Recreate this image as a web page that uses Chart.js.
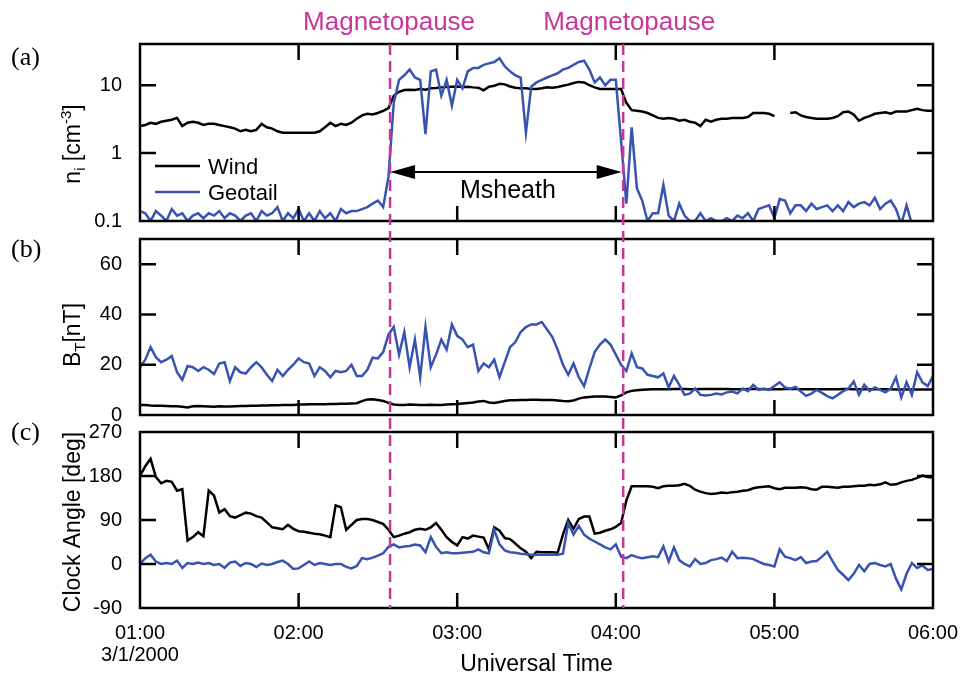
<!DOCTYPE html>
<html>
<head>
<meta charset="utf-8">
<script src="https://cdn.jsdelivr.net/npm/chart.js@4.4.1/dist/chart.umd.min.js"></script>
<style>
  html, body { margin: 0; padding: 0; background: #fff; }
  #wrap { position: relative; width: 962px; height: 674px; }
  #wrap canvas { position: absolute; left: 0; top: 0; }
</style>
</head>
<body>
<div id="wrap">
  <canvas id="panelA" width="962" height="674"></canvas>
  <canvas id="panelB" width="962" height="674"></canvas>
  <canvas id="panelC" width="962" height="674"></canvas>
</div>
<script>
// sample times in minutes after 01:00 UT, one every 2 minutes
const minutes = [];
for (let m = 0; m <= 300; m += 2) minutes.push(m);

const hourLabels = ['01:00', '02:00', '03:00', '04:00', '05:00', '06:00'];
const dateLabel = '3/1/2000';
const densityTicks = [0.1, 1, 10];
const fieldLabels = [0, 20, 40, 60];
const angleTicks = [-90, 0, 90, 180, 270];
const magnetopause = [94.6, 182.8];   // crossings, minutes after 01:00

// (a) ion density, cm^-3
const windDensity = [
  2.5, 2.6, 2.8, 2.7, 2.9, 3.0, 3.1, 3.3, 2.5, 2.8,
  2.9, 2.8, 2.6, 2.7, 2.7, 2.6, 2.5, 2.4, 2.3, 2.1,
  2.2, 2.1, 2.2, 2.7, 2.4, 2.3, 2.1, 2.0, 2.0, 2.0,
  2.0, 2.0, 2.0, 2.0, 2.1, 2.4, 2.8, 2.5, 2.7, 2.6,
  2.8, 3.2, 3.6, 3.8, 3.7, 3.9, 4.2, 4.6, 7.0, 8.0,
  8.5, 8.6, 8.5, 8.8, 8.6, 9.0, 9.1, 9.3, 9.4, 9.5,
  9.6, 9.4, 9.5, 9.3, 9.2, 8.4, 9.5, 9.8, 10.5, 10.3,
  9.6, 9.2, 9.0, 9.0, 8.8, 8.8, 9.0, 9.3, 9.2, 9.4,
  9.8, 10.2, 10.8, 11.2, 11.0, 10.0, 9.3, 8.8, 8.8, 8.8,
  8.8, 8.8, 5.5, 4.3, 4.2, 4.1, 3.9, 3.6, 3.3, 3.2,
  3.3, 3.2, 3.0, 3.1, 2.9, 2.8, 2.5, 3.1, 2.9, 3.1,
  3.2, 3.2, 3.3, 3.3, 3.3, 3.4, 3.9, 3.9, 3.9, 3.8,
  3.5, null, null, 3.9, 4.0, 3.6, 3.4, 3.3, 3.2, 3.2,
  3.2, 3.3, 3.5, 4.0, 4.1, 3.7, 3.0, 3.3, 3.5, 3.8,
  3.9, 4.0, 3.8, 4.1, 4.1, 4.1, 4.3, 4.5, 4.3, 4.2,
  4.2
];
const geotailDensity = [
  0.14, 0.13, 0.10, 0.14, 0.12, 0.10, 0.15, 0.12, 0.13, 0.10,
  0.12, 0.13, 0.11, 0.13, 0.12, 0.14, 0.11, 0.13, 0.12, 0.10,
  0.12, 0.13, 0.10, 0.14, 0.12, 0.13, 0.16, 0.10, 0.13, 0.11,
  0.15, 0.10, 0.13, 0.10, 0.14, 0.11, 0.13, 0.10, 0.15, 0.13,
  0.14, 0.14, 0.15, 0.16, 0.18, 0.20, 0.16, 0.45, 5.5, 12,
  14, 17, 13, 12, 1.9, 16, 17, 7, 12, 5,
  12, 9, 16, 18, 18, 20, 21, 22, 25, 19,
  16, 14, 13, 2.0, 9.5, 11, 12, 13, 14, 15,
  17, 18, 20, 22, 23, 17, 11, 13, 10, 12,
  12, 1.5, 0.18, 2.4, 0.3, 0.2, 0.10, 0.13, 0.13, 0.34,
  0.12, 0.10, 0.18, 0.12, 0.10, 0.10, 0.13, 0.10, 0.11, 0.10,
  0.10, 0.11, 0.10, 0.12, 0.11, 0.13, 0.10, 0.15, 0.16, 0.17,
  0.11, 0.21, 0.20, 0.13, 0.17, 0.17, 0.14, 0.18, 0.15, 0.16,
  0.17, 0.14, 0.17, 0.14, 0.19, 0.16, 0.18, 0.19, 0.17, 0.22,
  0.15, 0.18, 0.20, 0.15, 0.09, 0.17, 0.09, 0.09, 0.09, 0.09,
  0.10
];

// (b) total field, nT
const windField = [
  4.0, 4.0, 3.8, 3.7, 3.7, 3.6, 3.5, 3.5, 3.3, 3.0,
  3.5, 3.6, 3.5, 3.4, 3.3, 3.5, 3.4, 3.4, 3.5, 3.6,
  3.6, 3.7, 3.7, 3.8, 3.8, 3.9, 3.9, 4.0, 4.0, 4.0,
  4.2, 4.2, 4.3, 4.3, 4.3, 4.3, 4.4, 4.4, 4.5, 4.5,
  4.6, 4.7, 5.5, 6.2, 6.3, 6.0, 5.6, 4.8, 4.2, 4.0,
  4.0, 4.2, 4.1, 4.0, 4.0, 4.1, 4.0, 4.0, 4.2, 4.3,
  4.4, 4.6, 4.8, 5.0, 5.4, 5.6, 5.0, 4.8, 5.2, 5.6,
  5.9, 5.9, 6.0, 6.0, 6.1, 6.1, 6.0, 6.0, 6.0, 5.8,
  5.6, 5.5, 5.8, 6.5, 7.0, 7.2, 7.4, 7.4, 7.4, 7.2,
  7.0, 7.8, 9.0, 9.6, 9.8, 10.0, 10.1, 10.2, 10.2, 10.2,
  10.2, 10.3, 10.3, 10.3, 10.2, 10.2, 10.3, 10.3, 10.3, 10.3,
  10.3, 10.3, 10.2, 10.2, 10.2, 10.3, 10.3, 10.3, 10.2, 10.2,
  10.2, 10.2, 10.3, 10.3, 10.3, 10.2, 10.2, 10.2, 10.2, 10.2,
  10.2, 10.2, 10.2, 10.3, 10.3, 10.2, 10.2, 10.2, 10.2, 10.2,
  10.2, 10.2, 10.2, 10.1, 10.1, 10.1, 10.1, 10.1, 10.1, 10.1,
  10.1
];
const geotailField = [
  19, 22, 27, 23, 21, 22, 23.5, 17, 14, 19.5,
  19, 17.5, 19, 18, 16.3, 20.5, 21, 13.5, 19, 17,
  16.5, 19, 21, 19, 16, 13.5, 18, 15.5, 18, 20,
  22.5, 21, 20.5, 15.5, 19, 17.5, 15, 17.5, 17, 17.5,
  20, 15.5, 15.5, 18, 22.8, 22.5, 25, 32, 35, 24,
  33, 19, 30, 15, 35, 19, 24, 30, 26, 36,
  31.5, 30, 27, 28, 17.5, 20.5, 19, 22, 15, 21,
  27, 29, 33, 35, 36, 36, 37, 34, 31, 26,
  20, 16, 20.5, 15, 11.5, 18.5, 25, 28, 30, 28,
  24, 20, 17.5, 24.5, 19, 18.5, 16, 15.5, 15, 16.5,
  11, 15.5, 12, 8, 8.5, 10.5, 8, 7.8, 8, 8.5,
  8.2, 9, 9.3, 8.6, 10.5, 9.5, 12, 10, 10.5, 10,
  11.5, 13, 11, 10.5, 11.2, 9.3, 7.6, 8.5, 10, 8.8,
  7.5, 6.6, 8, 9.5, 10.5, 13.3, 8, 12, 9.5, 11,
  10, 9, 10.5, 15, 7, 13, 8, 17, 13, 11.5,
  15.5
];

// (c) IMF clock angle, deg
const windClock = [
  180, 200, 215, 178, 165, 170, 168, 150, 153, 48,
  55, 65, 57, 150, 140, 105, 112, 98, 95, 100,
  105, 103, 98, 95, 85, 75, 73, 71, 80, 72,
  67, 66, 64, 62, 61, 58, 55, 120, 116, 70,
  80, 90, 92, 92, 90, 86, 82, 70, 55, 58,
  62, 65, 70, 72, 70, 75, 84, 70, 55, 45,
  38, 55, 52, 58, 56, 54, 30, 75, 68, 53,
  51, 42, 32, 25, 12, 25, 24, 24, 24, 23,
  60, 90, 72, 92, 97, 97, 62, 64, 68, 71,
  76, 84, 130, 159, 159, 159, 159, 158, 155, 159,
  160, 160, 161, 164, 160, 152, 148, 145, 143, 144,
  146, 145, 147, 148, 150, 151, 155, 157, 158, 159,
  155, 153, 156, 156, 156, 157, 156, 153, 152, 158,
  158, 157, 156, 158, 158, 159, 160, 160, 162, 161,
  163, 167, 162, 163, 167, 170, 172, 176, 181, 178,
  177
];
const geotailClock = [
  0, 12, 19, 5, 0, 2, 0, 7, -8, 2,
  0, 3, 0, 2, -2, 0, -8, 3, 5, -4,
  2, 0, -6, 1, -2, 0, 4, 7, 0, -10,
  -9, -2, 5, -2, 2, 0, -2, 0, 0, -6,
  -9, -4, 12, 10, 13, 17, 22, 35, 40, 34,
  36, 37, 40, 38, 24, 55, 35, 22, 24, 22,
  22, 23, 24, 25, 30, 24, 22, 70, 40, 28,
  24, 23, 21, 20, 19, 19, 19, 19, 19, 19,
  21, 84, 60, 78, 60, 52, 46, 40, 34, 30,
  40, 15, 12, 18, 14, 12, 14, 16, 14, 36,
  5, 34, 8, 0, -5, 10, 0, 2, 8, 10,
  13, 6, 25, 12, 13, 12, 10, 5, 0, -2,
  -5, 30, 15, 12, 8, 14, 2, 5, 6, 15,
  25, 6, -12, -22, -33, -20, -2, -15, 0, 2,
  -2, -5, 0, -30, -52, -20, 2, -8, -3, -12,
  -10
];

const WIND = '#000000';
const GEOTAIL = '#3953b1';
const MAGENTA = '#c8369a';
const SANS = "'Liberation Sans', Arial, sans-serif";

Chart.defaults.font.family = SANS;
Chart.defaults.font.size = 20;
Chart.defaults.color = '#000';

// plot boxes of the three panels
const panelTop = [44, 239, 432];
const panelBottom = [221, 415, 608];
const PLOT_LEFT = 140, PLOT_RIGHT = 933;
const X_AXIS_HEIGHT = 66;

const toPoints = vals => vals.map((v, i) => ({ x: minutes[i], y: v }));

function lineSet(label, vals, color, order) {
  return {
    label, data: toPoints(vals), borderColor: color, borderWidth: 2.5,
    pointRadius: 0, tension: 0, spanGaps: false, fill: false, order
  };
}

// inward tick marks on all four sides and the box round the plot
function frameTicks(isMajor) {
  return {
    id: 'frameTicks',
    afterDatasetsDraw(chart) {
      const { ctx, chartArea: a, scales: { x, y } } = chart;
      ctx.save();
      ctx.strokeStyle = '#000';
      ctx.lineWidth = 2.5;
      ctx.beginPath();
      x.ticks.forEach(t => {
        const px = x.getPixelForValue(t.value);
        if (px <= a.left + 1 || px >= a.right - 1) return;
        ctx.moveTo(px, a.top); ctx.lineTo(px, a.top + 16);
        ctx.moveTo(px, a.bottom); ctx.lineTo(px, a.bottom - 15);
      });
      y.ticks.forEach(t => {
        const py = y.getPixelForValue(t.value);
        if (py <= a.top + 1 || py >= a.bottom - 1) return;
        const len = isMajor(t.value) ? 16 : 8;
        ctx.moveTo(a.left, py); ctx.lineTo(a.left + len, py);
        ctx.moveTo(a.right, py); ctx.lineTo(a.right - len, py);
      });
      ctx.stroke();
      ctx.strokeRect(a.left, a.top, a.right - a.left, a.bottom - a.top);
      ctx.restore();
    }
  };
}

// rotated axis title with sub/superscripts
function drawRotatedTitle(ctx, parts, baseX, centerY) {
  const fontFor = p => (p.sub || p.sup ? 15 : 23) + 'px ' + SANS;
  let total = 0;
  parts.forEach(p => { ctx.font = fontFor(p); total += ctx.measureText(p.text).width; });
  ctx.save();
  ctx.translate(baseX, centerY);
  ctx.rotate(-Math.PI / 2);
  ctx.textAlign = 'left';
  ctx.textBaseline = 'alphabetic';
  let pos = -total / 2;
  parts.forEach(p => {
    ctx.font = fontFor(p);
    ctx.fillText(p.text, pos, p.sub ? 5 : (p.sup ? -9 : 0));
    pos += ctx.measureText(p.text).width;
  });
  ctx.restore();
}

function panelText(tag, tagBaseline, titleParts, titleCenter) {
  return {
    id: 'panelText',
    afterDraw(chart) {
      const ctx = chart.ctx;
      ctx.save();
      ctx.fillStyle = '#000';
      ctx.font = "26px 'Liberation Serif', 'Times New Roman', serif";
      ctx.textAlign = 'left';
      ctx.textBaseline = 'alphabetic';
      ctx.fillText(tag, 11, tagBaseline);
      drawRotatedTitle(ctx, titleParts, 80, titleCenter);
      ctx.restore();
    }
  };
}

function xScale(showLabels) {
  return {
    type: 'linear', min: 0, max: 300,
    grid: { display: false }, border: { display: false },
    ticks: {
      display: showLabels, stepSize: 60, autoSkip: false, maxRotation: 0,
      padding: 6, font: { size: 20, lineHeight: 1.1 },
      callback: v => {
        const h = hourLabels[v / 60];
        return v === 0 ? [h, dateLabel] : h;
      }
    },
    afterFit: s => { s.height = showLabels ? X_AXIS_HEIGHT : 0; s.paddingLeft = 0; s.paddingRight = 0; }
  };
}

function yFit(s) { s.width = PLOT_LEFT; s.paddingTop = 0; s.paddingBottom = 0; }

function baseOptions(panel, yOpts, showX) {
  return {
    responsive: false, animation: false, events: [],
    layout: {
      padding: {
        left: 0, right: 962 - PLOT_RIGHT, top: panelTop[panel],
        bottom: 674 - panelBottom[panel] - (showX ? X_AXIS_HEIGHT : 0)
      }
    },
    plugins: { legend: { display: false }, tooltip: { enabled: false } },
    scales: { x: xScale(showX), y: yOpts }
  };
}

// (a) density with legend and magnetosheath arrow
const densityExtras = {
  id: 'densityExtras',
  afterDraw(chart) {
    const { ctx, scales: { x } } = chart;
    ctx.save();
    ctx.lineWidth = 2.5;
    ctx.font = '22px ' + SANS;
    ctx.textAlign = 'left';
    ctx.textBaseline = 'alphabetic';
    [[WIND, 'Wind', 166], [GEOTAIL, 'Geotail', 192]].forEach(([c, name, ly]) => {
      ctx.strokeStyle = c;
      ctx.beginPath(); ctx.moveTo(155, ly); ctx.lineTo(200, ly); ctx.stroke();
      ctx.fillStyle = '#000';
      ctx.fillText(name, 208, ly + 7.5);
    });

    const x1 = x.getPixelForValue(magnetopause[0]);
    const x2 = x.getPixelForValue(magnetopause[1]) - 1.5;
    const ay = 172;
    ctx.strokeStyle = '#000';
    ctx.fillStyle = '#000';
    ctx.lineWidth = 2.2;
    ctx.beginPath(); ctx.moveTo(x1 + 20, ay); ctx.lineTo(x2 - 20, ay); ctx.stroke();
    ctx.beginPath();
    ctx.moveTo(x1, ay); ctx.lineTo(x1 + 25, ay - 7); ctx.lineTo(x1 + 25, ay + 7); ctx.closePath();
    ctx.moveTo(x2, ay); ctx.lineTo(x2 - 25, ay - 7); ctx.lineTo(x2 - 25, ay + 7); ctx.closePath();
    ctx.fill();
    ctx.font = '25px ' + SANS;
    ctx.textAlign = 'center';
    ctx.fillText('Msheath', (x1 + x2) / 2 + 2, 198);
    ctx.restore();
  }
};

new Chart(document.getElementById('panelA'), {
  type: 'line',
  data: {
    datasets: [
      lineSet('Wind', windDensity, WIND, 2),
      lineSet('Geotail', geotailDensity, GEOTAIL, 1)
    ]
  },
  options: baseOptions(0, {
    type: 'logarithmic', min: 0.1, max: 40.5, bounds: 'data',
    grid: { display: false }, border: { display: false },
    afterBuildTicks: s => { s.ticks = densityTicks.map(v => ({ value: v })); },
    ticks: { padding: 10, callback: v => String(v) },
    afterFit: yFit
  }, false),
  plugins: [
    frameTicks(() => true),
    panelText('(a)', 65, [{ text: 'n' }, { text: 'i', sub: true }, { text: ' [cm' }, { text: '-3', sup: true }, { text: ']' }], 144),
    densityExtras
  ]
});

new Chart(document.getElementById('panelB'), {
  type: 'line',
  data: {
    datasets: [
      lineSet('Wind', windField, WIND, 2),
      lineSet('Geotail', geotailField, GEOTAIL, 1)
    ]
  },
  options: baseOptions(1, {
    type: 'linear', min: 0, max: 70,
    grid: { display: false }, border: { display: false },
    ticks: { stepSize: 10, padding: 10, callback: v => fieldLabels.includes(v) ? String(v) : '' },
    afterFit: yFit
  }, false),
  plugins: [
    frameTicks(v => v % 20 === 0),
    panelText('(b)', 257, [{ text: 'B' }, { text: 'T', sub: true }, { text: '[nT]' }], 335)
  ]
});

// magnetopause markers and the shared time-axis title, drawn over everything
const crossings = {
  id: 'crossings',
  afterDraw(chart) {
    const { ctx, scales: { x }, chartArea: a } = chart;
    ctx.save();
    ctx.strokeStyle = MAGENTA;
    ctx.lineWidth = 2.5;
    ctx.setLineDash([11, 6]);
    ctx.beginPath();
    magnetopause.forEach(t => {
      const px = x.getPixelForValue(t);
      ctx.moveTo(px, panelTop[0]); ctx.lineTo(px, panelBottom[2]);
    });
    ctx.stroke();
    ctx.setLineDash([]);
    ctx.fillStyle = MAGENTA;
    ctx.font = '26px ' + SANS;
    ctx.textAlign = 'center';
    ctx.textBaseline = 'alphabetic';
    magnetopause.forEach((t, i) => {
      ctx.fillText('Magnetopause', x.getPixelForValue(t) + (i ? 6 : -1), 30);
    });
    ctx.fillStyle = '#000';
    ctx.font = '23px ' + SANS;
    ctx.fillText('Universal Time', (a.left + a.right) / 2, 671);
    ctx.restore();
  }
};

new Chart(document.getElementById('panelC'), {
  type: 'line',
  data: {
    datasets: [
      lineSet('Wind', windClock, WIND, 2),
      lineSet('Geotail', geotailClock, GEOTAIL, 1)
    ]
  },
  options: baseOptions(2, {
    type: 'linear', min: angleTicks[0], max: angleTicks[angleTicks.length - 1],
    grid: { display: false }, border: { display: false },
    ticks: { stepSize: 90, padding: 10 },
    afterFit: yFit
  }, true),
  plugins: [
    frameTicks(() => true),
    panelText('(c)', 440, [{ text: 'Clock Angle [deg]' }], 522),
    crossings
  ]
});
</script>
</body>
</html>
